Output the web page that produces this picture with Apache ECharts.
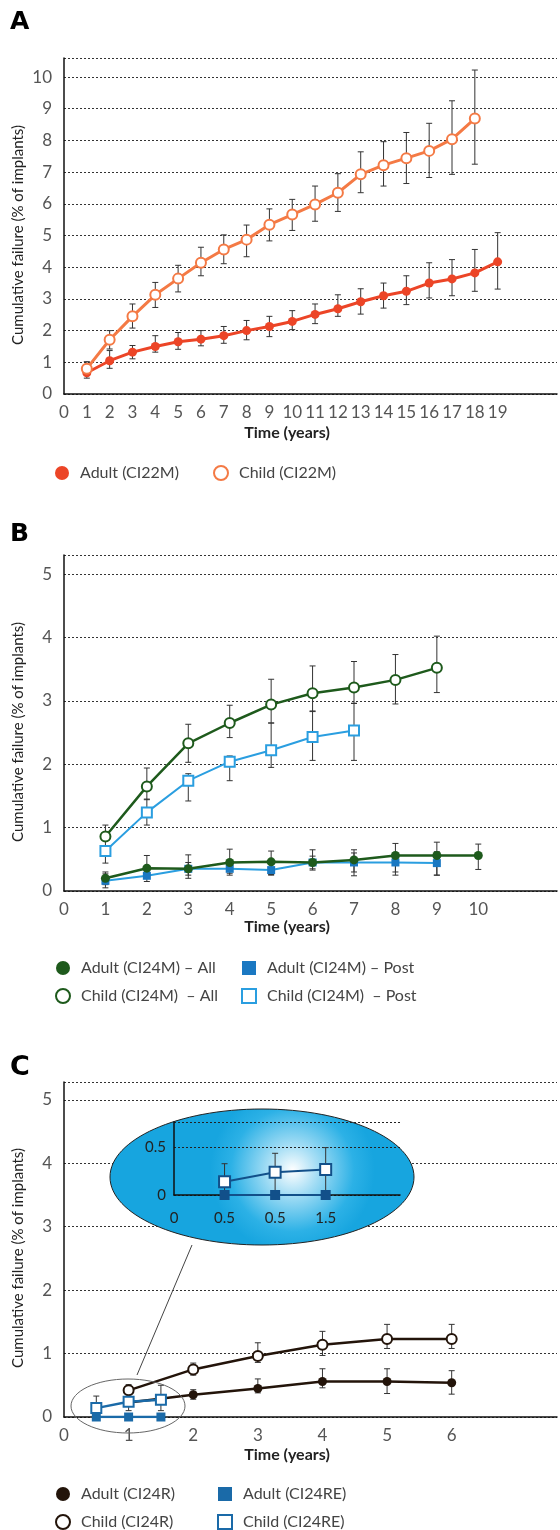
<!DOCTYPE html>
<html><head><meta charset="utf-8">
<script src="https://cdn.jsdelivr.net/npm/echarts@6/dist/echarts.min.js"></script>
<style>html,body{margin:0;padding:0;background:#fff}#c{width:560px;height:1530px}</style>
</head><body><div id="c"></div>
<script>
// ---------- Panel A ----------
const yearsAdultA = [1,2,3,4,5,6,7,8,9,10,11,12,13,14,15,16,17,18,19];
const adultA   = [0.67,1.05,1.32,1.50,1.65,1.73,1.84,2.00,2.13,2.29,2.51,2.69,2.91,3.10,3.24,3.50,3.63,3.82,4.17];
const adultALo = [0.50,0.81,1.11,1.32,1.41,1.52,1.60,1.71,1.81,2.03,2.22,2.45,2.52,2.71,2.82,3.03,3.10,3.24,3.31];
const adultAHi = [0.85,1.37,1.53,1.84,1.94,2.00,2.13,2.32,2.45,2.63,2.84,3.13,3.32,3.50,3.73,4.14,4.24,4.56,5.09];
const yearsChildA = [1,2,3,4,5,6,7,8,9,10,11,12,13,14,15,16,17,18];
const childA   = [0.80,1.71,2.45,3.13,3.64,4.14,4.56,4.87,5.34,5.66,5.98,6.35,6.93,7.22,7.44,7.67,8.04,8.69];
const childALo = [0.60,1.42,2.08,2.73,3.22,3.73,4.11,4.33,4.83,5.16,5.45,5.76,6.35,6.56,6.64,6.83,6.93,7.25];
const childAHi = [1.02,2.00,2.84,3.52,4.06,4.63,5.02,5.33,5.84,6.14,6.56,6.95,7.64,7.96,8.25,8.54,9.25,10.22];

// ---------- Panel B ----------
const yearsB10 = [1,2,3,4,5,6,7,8,9,10];
const adultAllB   = [0.20,0.36,0.35,0.45,0.46,0.45,0.49,0.56,0.56,0.56];
const adultAllBLo = [0.10,0.20,0.20,0.28,0.26,0.33,0.24,0.25,0.25,0.34];
const adultAllBHi = [0.30,0.56,0.57,0.66,0.63,0.65,0.65,0.75,0.77,0.74];
const yearsB9 = [1,2,3,4,5,6,7,8,9];
const childAllB   = [0.86,1.65,2.33,2.65,2.94,3.12,3.21,3.33,3.52];
const childAllBLo = [0.70,1.44,2.03,2.42,2.65,2.83,2.96,2.95,3.13];
const childAllBHi = [1.04,1.94,2.63,2.93,3.34,3.55,3.62,3.73,4.02];
const adultPostB   = [0.16,0.24,0.35,0.35,0.33,0.45,0.45,0.45,0.44];
const adultPostBLo = [0.05,0.15,0.25,0.25,0.25,0.35,0.30,0.30,0.25];
const adultPostBHi = [0.27,0.35,0.45,0.45,0.42,0.55,0.60,0.60,0.62];
const yearsB7 = [1,2,3,4,5,6,7];
const childPostB   = [0.63,1.24,1.74,2.04,2.22,2.43,2.53];
const childPostBLo = [0.44,1.04,1.42,1.74,1.95,2.06,2.06];
const childPostBHi = [0.71,1.45,1.85,2.13,2.65,2.84,2.96];

// ---------- Panel C ----------
const yearsC = [1,2,3,4,5,6];
const adultR   = [0.23,0.35,0.45,0.56,0.56,0.54];
const adultRLo = [0.18,0.28,0.38,0.46,0.37,0.36];
const adultRHi = [0.30,0.43,0.60,0.76,0.76,0.73];
const childR   = [0.42,0.75,0.96,1.14,1.23,1.23];
const childRLo = [0.35,0.66,0.86,0.97,1.08,1.08];
const childRHi = [0.51,0.85,1.17,1.35,1.46,1.46];
const yearsRE = [0.5,1,1.5];
const adultRE = [0,0,0];
const childRE   = [0.14,0.24,0.27];
const childRELo = [0.00,0.10,0.10];
const childREHi = [0.33,0.44,0.50];
// inset (positions on the inset's own axis, labelled as printed)
const insetXLabels = ['0','0.5','0.5','1.5'];
const insetPos = [1,2,3];

const FONT = 'Lato';
const ERR = '#333';

function errRender(params, api){
  const x = api.value(0), lo = api.value(1), hi = api.value(2);
  const a = api.coord([x, hi]), b = api.coord([x, lo]);
  const w = 3;
  const st = {stroke: ERR, lineWidth: 1};
  return {type:'group', children:[
    {type:'line', shape:{x1:a[0],y1:a[1],x2:b[0],y2:b[1]}, style:st},
    {type:'line', shape:{x1:a[0]-w,y1:a[1],x2:a[0]+w,y2:a[1]}, style:st},
    {type:'line', shape:{x1:b[0]-w,y1:b[1],x2:b[0]+w,y2:b[1]}, style:st}
  ]};
}
function err(xs, lo, hi, gi){
  return {type:'custom', renderItem: errRender, xAxisIndex:gi, yAxisIndex:gi, z:1, silent:true,
    encode:{x:0, y:[1,2]}, data: xs.map((x,i)=>[x, lo[i], hi[i]])};
}
function line(name, xs, ys, gi, color, symbol, open, size, lw, lineColor, z){
  return {type:'line', name, xAxisIndex:gi, yAxisIndex:gi, z: z||3,
    data: xs.map((x,i)=>[x, ys[i]]), symbol, symbolSize:size, showAllSymbol:true,
    lineStyle:{color: lineColor||color, width: lw},
    itemStyle: open ? {color:'#fff', borderColor:color, borderWidth:2} : {color:color, borderColor:color, borderWidth:0},
    emphasis:{disabled:true}, animation:false};
}
function xAx(gi, max, maxLabel){
  return {type:'value', gridIndex:gi, min:0, max, interval:1,
    axisLine:{show:true, onZero:false, lineStyle:{color:'#111', width:1.5}},
    axisTick:{show:false}, splitLine:{show:false},
    axisLabel:{color:'#555', fontSize:17, fontFamily:FONT, margin:10,
      formatter: v => v <= maxLabel ? String(v) : ''}};
}
function yAx(gi, max){
  return {type:'value', gridIndex:gi, min:0, max, interval:1,
    axisLine:{show:true, lineStyle:{color:'#111', width:1.5}},
    axisTick:{show:false},
    splitLine:{show:true, lineStyle:{color:'#333', width:1, type:[2,2]}},
    axisLabel:{color:'#555', fontSize:17, fontFamily:FONT, margin:12, showMaxLabel:false}};
}

const cA = '#ec4527', cA2 = '#f47a45';
const green = '#1e5a1c', blueL = '#2a9ee0', blueD = '#1a78c2';
const brown = '#23140a', blueRE = '#1a6aa8';

const legText = {color:'#444', fontSize:16, fontFamily:FONT, padding:[0,0,0,6]};
function leg(left, top, items){
  return {left, top, orient:'vertical', padding:0, itemWidth:14, itemHeight:14, itemGap:12,
    selectedMode:false, textStyle:legText, data: items};
}
function li(name, icon, color, open){
  return {name, icon, itemStyle: open ? {color:'#fff', borderColor:color, borderWidth:2} : {color, borderWidth:0}};
}

const grids = [
  {left:64, top:58, width:496, height:336},
  {left:64, top:555, width:496, height:336},
  {left:64, top:1082, width:496, height:335},
  {left:174, top:1122, width:226, height:73}
];

const yTitle = {font:'15px Lato', fill:'#222', align:'center', verticalAlign:'middle'};
const xTitle = {font:'bold 16px Lato', fill:'#222', align:'center', verticalAlign:'middle'};

const option = {
  animation:false,
  backgroundColor:'#fff',
  grid: grids,
  xAxis: [
    xAx(0, 21.6, 19), xAx(1, 11.9, 10), xAx(2, 7.63, 6),
    {type:'value', gridIndex:3, min:0, max:4.47, interval:1, z:10,
      axisLine:{show:true, onZero:false, lineStyle:{color:'#111', width:1.5}},
      axisTick:{show:false}, splitLine:{show:false},
      axisLabel:{color:'#222', fontSize:15, fontFamily:FONT, margin:16,
        formatter: v => insetXLabels[v] !== undefined ? insetXLabels[v] : ''}}
  ],
  yAxis: [
    yAx(0, 10.6), yAx(1, 5.3), yAx(2, 5.28),
    {type:'value', gridIndex:3, min:0, max:0.77, interval:0.5, z:10,
      axisLine:{show:true, lineStyle:{color:'#111', width:1.5}},
      axisTick:{show:false},
      splitLine:{show:true, lineStyle:{color:'#222', width:1, type:[2,2]}},
      axisLabel:{color:'#222', fontSize:15, fontFamily:FONT, margin:8, showMaxLabel:false}}
  ],
  legend: [
    leg(55, 465, [li('Adult (CI22M)','circle',cA,false)]),
    leg(213, 465, [li('Child (CI22M)','circle',cA2,true)]),
    leg(55, 960, [li('Adult (CI24M) – All','circle',green,false), li('Child (CI24M)  – All','circle',green,true)]),
    leg(241, 960, [li('Adult (CI24M) – Post','rect',blueD,false), li('Child (CI24M)  – Post','rect',blueL,true)]),
    leg(55, 1486, [li('Adult (CI24R)','circle',brown,false), li('Child (CI24R)','circle',brown,true)]),
    leg(217, 1486, [li('Adult (CI24RE)','rect',blueRE,false), li('Child (CI24RE)','rect',blueRE,true)])
  ],
  graphic: [
    {type:'text', left:10, top:10, style:{text:'A', font:'bold 25px "DejaVu Sans"', fill:'#000'}},
    {type:'text', left:10, top:522, style:{text:'B', font:'bold 25px "DejaVu Sans"', fill:'#000'}},
    {type:'text', left:10, top:1054, style:{text:'C', font:'bold 27px "DejaVu Sans"', fill:'#000'}},
    {type:'text', x:18, y:235, rotation:Math.PI/2, style:Object.assign({text:'Cumulative failure (% of implants)'}, yTitle)},
    {type:'text', x:18, y:732, rotation:Math.PI/2, style:Object.assign({text:'Cumulative failure (% of implants)'}, yTitle)},
    {type:'text', x:18, y:1258, rotation:Math.PI/2, style:Object.assign({text:'Cumulative failure (% of implants)'}, yTitle)},
    {type:'text', x:287, y:433, style:Object.assign({text:'Time (years)'}, xTitle)},
    {type:'text', x:287, y:927, style:Object.assign({text:'Time (years)'}, xTitle)},
    {type:'text', x:287, y:1455, style:Object.assign({text:'Time (years)'}, xTitle)},
    {type:'ellipse', z:5, shape:{cx:262, cy:1177, rx:152, ry:68},
      style:{stroke:'#222', lineWidth:1,
        fill:{type:'radial', x:0.6, y:0.45, r:0.6, colorStops:[
          {offset:0, color:'#ffffff'}, {offset:0.3, color:'#a6def5'}, {offset:0.75, color:'#2cb1e6'}, {offset:1, color:'#17a5df'}]}}},
    {type:'ellipse', z:5, shape:{cx:128, cy:1406, rx:57, ry:27}, style:{stroke:'#666', lineWidth:1, fill:null}},
    {type:'line', z:5, shape:{x1:137, y1:1375, x2:192, y2:1245}, style:{stroke:'#444', lineWidth:1}}
  ],
  series: [
    err(yearsAdultA, adultALo, adultAHi, 0),
    err(yearsChildA, childALo, childAHi, 0),
    line('Adult (CI22M)', yearsAdultA, adultA, 0, cA, 'circle', false, 9, 3),
    line('Child (CI22M)', yearsChildA, childA, 0, cA2, 'circle', true, 10, 3),

    err(yearsB10, adultAllBLo, adultAllBHi, 1),
    err(yearsB9, childAllBLo, childAllBHi, 1),
    err(yearsB9, adultPostBLo, adultPostBHi, 1),
    err(yearsB7, childPostBLo, childPostBHi, 1),
    line('Adult (CI24M) – Post', yearsB9, adultPostB, 1, blueD, 'rect', false, 8, 2, blueL),
    line('Child (CI24M)  – Post', yearsB7, childPostB, 1, blueL, 'rect', true, 10, 2),
    line('Adult (CI24M) – All', yearsB10, adultAllB, 1, green, 'circle', false, 9, 2.5),
    line('Child (CI24M)  – All', yearsB9, childAllB, 1, green, 'circle', true, 10, 2.5),

    err(yearsC, adultRLo, adultRHi, 2),
    err(yearsC, childRLo, childRHi, 2),
    err(yearsRE, childRELo, childREHi, 2),
    line('Adult (CI24R)', yearsC, adultR, 2, brown, 'circle', false, 9, 2.5),
    line('Child (CI24R)', yearsC, childR, 2, brown, 'circle', true, 10, 2.5),
    line('Adult (CI24RE)', yearsRE, adultRE, 2, blueRE, 'rect', false, 9, 2.5, null, 4),
    line('Child (CI24RE)', yearsRE, childRE, 2, blueRE, 'rect', true, 10, 2.5, null, 4),

    Object.assign(err(insetPos, childREHi.map(()=>0), childREHi, 3), {z:11}),
    Object.assign(line('inset adult', insetPos, adultRE, 3, '#12508a', 'rect', false, 10, 2), {z:12}),
    Object.assign(line('inset child', insetPos, childRE, 3, '#12508a', 'rect', true, 11, 2), {z:12})
  ]
};
const chart = echarts.init(document.getElementById('c'), null, {renderer:'canvas'});
chart.setOption(option);
</script></body></html>
